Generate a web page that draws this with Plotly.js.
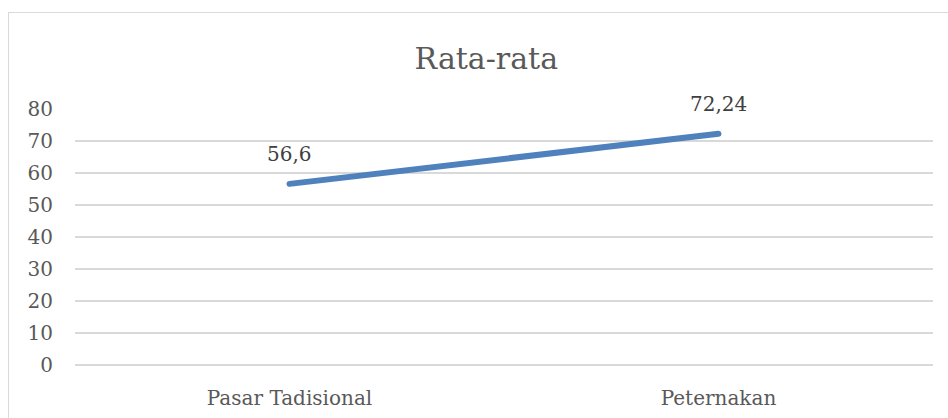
<!DOCTYPE html>
<html>
<head>
<meta charset="utf-8">
<script src="https://cdn.plot.ly/plotly-3.0.1.min.js"></script>
<style>
  html, body { margin: 0; padding: 0; background: #ffffff; }
  #wrap { position: relative; width: 948px; height: 418px; overflow: hidden; }
  #frame { position: absolute; left: 8px; top: 12px; width: 960px; height: 440px; border: 1px solid #d9d9d9; box-sizing: border-box; }
  #chart { position: absolute; left: 0; top: 0; width: 948px; height: 418px; }
  #chart .scatterlayer path.js-line { stroke-linecap: round; }
</style>
</head>
<body>
<div id="wrap">
  <div id="frame"></div>
  <div id="chart"></div>
</div>
<script>
const categories = ["Pasar Tadisional", "Peternakan"];
const values = [56.6, 72.24];
const yTicks = [0, 10, 20, 30, 40, 50, 60, 70, 80];
const chartTitle = "Rata-rata";

const FONT = "DejaVu Serif, serif";
const labels = values.map(v => String(v).replace('.', ','));

const trace = {
  x: categories,
  y: values,
  type: 'scatter',
  mode: 'lines',
  line: { color: '#4F81BD', width: 6, shape: 'linear' },
  hoverinfo: 'skip'
};

const annotations = categories.map((c, i) => ({
  x: c, y: values[i], xref: 'x', yref: 'y',
  text: labels[i], showarrow: false, yshift: 30,
  font: { family: FONT, size: 20, color: '#404040' }
}));

const layout = {
  width: 948, height: 418,
  margin: { l: 75, r: 15, t: 109, b: 53 },
  paper_bgcolor: 'rgba(0,0,0,0)',
  plot_bgcolor: 'rgba(0,0,0,0)',
  showlegend: false,
  title: {
    text: chartTitle,
    font: { family: FONT, size: 30, color: '#595959' },
    x: 0.513, xanchor: 'center', y: 0.86, yanchor: 'middle'
  },
  xaxis: {
    type: 'category',
    showgrid: false, zeroline: false, showline: false,
    ticks: 'outside', ticklen: 15, tickcolor: 'rgba(0,0,0,0)',
    tickfont: { family: FONT, size: 20, color: '#595959' },
    range: [-0.5, 1.5]
  },
  yaxis: {
    range: [0, 80],
    tickvals: yTicks,
    ticktext: yTicks.map(String),
    showgrid: true, gridcolor: '#d9d9d9', gridwidth: 1.5,
    zeroline: true, zerolinecolor: '#d9d9d9', zerolinewidth: 1.5,
    showline: false,
    ticks: 'outside', ticklen: 17, tickcolor: 'rgba(0,0,0,0)',
    tickfont: { family: FONT, size: 20, color: '#595959' }
  },
  annotations: annotations
};

Plotly.newPlot('chart', [trace], layout, { displayModeBar: false, staticPlot: true });
</script>
</body>
</html>
